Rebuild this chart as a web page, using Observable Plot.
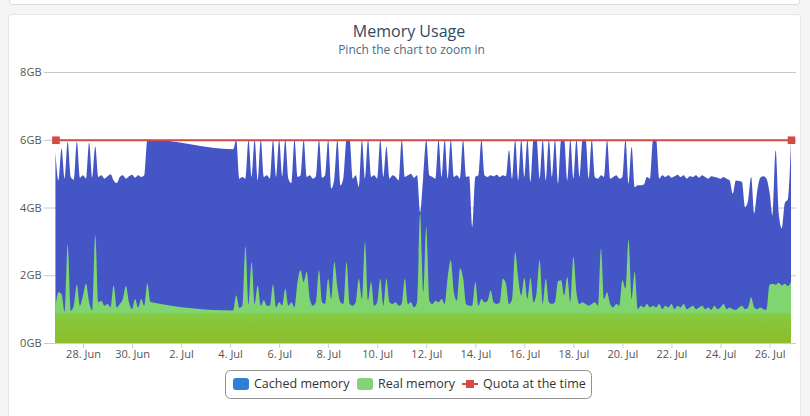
<!DOCTYPE html>
<html>
<head>
<meta charset="utf-8">
<script src="https://cdn.jsdelivr.net/npm/d3@7"></script>
<script src="https://cdn.jsdelivr.net/npm/@observablehq/plot@0.6"></script>
<style>
html,body{margin:0;padding:0}
body{width:810px;height:416px;overflow:hidden;background:#f5f5f5;position:relative;font-family:"Open Sans",sans-serif}
#topbox{position:absolute;left:9px;top:-12px;width:789px;height:15px;background:#fff;border:1px solid #dcdcdc;border-radius:3px}
#panel{position:absolute;left:8px;top:14px;width:791px;height:412px;background:#fff;border:1px solid #e6e6e6;border-radius:3px}
#chart,#overlay{position:absolute;left:0;top:0}
</style>
</head>
<body>
<div id="topbox"></div>
<div id="panel"></div>
<div id="chart"></div>
<svg id="overlay" width="810" height="416" font-family="Open Sans, sans-serif">
  <text x="409" y="36.5" text-anchor="middle" font-size="16" fill="#34495e">Memory Usage</text>
  <text x="411.5" y="54" text-anchor="middle" font-size="12" fill="#4d6a86">Pinch the chart to zoom in</text>
  <rect x="225.5" y="370.5" width="366" height="28" rx="5" fill="#fff" stroke="#909090"/>
  <rect x="233" y="378" width="16" height="12" rx="3" fill="#2f7ed8"/>
  <text x="254" y="388" font-size="12.5" fill="#333">Cached memory</text>
  <rect x="357" y="378" width="16" height="12" rx="3" fill="#86d27a"/>
  <text x="378" y="388" font-size="12.5" fill="#333">Real memory</text>
  <line x1="462" x2="478" y1="384" y2="384" stroke="#d24b47" stroke-width="2"/>
  <rect x="466" y="380" width="8" height="8" fill="#d24b47"/>
  <text x="483" y="388" font-size="12.5" fill="#333">Quota at the time</text>
</svg>
<script>
// ---- data (GB), one value every 3 hours starting 26 Jun 21:00; null = no samples ----
const cachedGB = [
  5.64,4.8,5.74,4.85,5.94,4.9,4.82,5.95,4.88,4.95,
  4.85,5.92,4.88,5.8,4.9,4.95,4.85,4.92,4.98,4.8,
  4.72,4.9,4.95,4.85,4.92,4.97,4.88,4.95,4.9,4.95,
  6.0,6.0,null,null,null,null,null,null,null,null,
  null,null,null,null,null,null,null,null,null,null,
  null,null,null,null,null,null,null,null,5.72,6.0,
  4.85,4.9,4.85,6.0,4.9,6.0,4.8,6.0,4.9,4.95,
  4.85,6.0,4.9,6.0,4.92,6.0,4.85,4.72,6.0,4.9,
  4.95,6.0,4.9,4.95,4.85,4.92,6.0,4.88,4.95,6.0,
  4.56,4.85,6.0,4.65,4.9,6.0,6.0,4.85,4.95,4.6,
  6.0,4.85,6.0,4.9,4.95,4.85,6.0,4.9,5.79,4.85,
  4.95,4.9,4.8,6.0,4.9,4.95,5.0,4.88,4.95,3.85,
  4.9,6.0,4.95,4.9,4.85,6.0,4.9,6.0,4.85,6.0,
  4.9,4.95,4.85,6.0,4.9,4.92,3.42,4.9,4.95,6.0,
  4.95,4.9,4.95,4.92,4.97,4.9,4.95,4.92,5.69,4.85,
  6.0,4.8,6.0,4.9,6.0,4.75,6.0,6.0,4.85,6.0,
  4.8,6.0,4.9,6.0,4.7,6.0,6.0,4.8,6.0,4.85,
  6.0,4.9,6.0,6.0,4.85,6.0,4.9,4.85,4.95,4.9,
  6.0,4.85,4.9,4.95,4.85,4.9,6.0,4.7,5.79,4.6,
  4.66,4.66,4.68,4.9,4.85,6.0,6.0,4.85,4.95,4.9,
  4.95,4.88,4.92,4.97,4.9,4.95,4.85,4.92,4.9,4.95,
  4.88,4.95,4.9,4.85,4.92,4.9,4.88,4.85,4.9,4.85,
  4.8,4.41,4.8,4.78,4.75,4.01,4.2,4.9,3.82,4.5,
  4.88,4.92,4.85,4.45,3.75,5.69,3.82,3.38,4.13,4.25,
  5.95
];
const realGB = [
  1.05,1.5,1.45,0.92,2.9,0.95,1.1,1.72,1.1,1.4,
  1.75,1.2,0.96,3.18,1.2,1.25,1.1,1.15,1.05,1.7,
  1.05,1.15,1.3,1.68,1.2,1.0,1.3,1.05,1.3,1.1,
  1.76,1.21,null,null,null,null,null,null,null,null,
  null,null,null,null,null,null,null,null,null,null,
  null,null,null,null,null,null,null,null,0.96,1.41,
  1.04,1.1,2.85,1.13,2.39,1.15,1.7,1.1,1.26,1.1,
  1.1,1.73,1.05,1.2,1.1,1.6,1.1,1.2,1.05,1.8,
  2.15,1.8,2.1,1.3,1.1,1.2,2.15,1.2,1.15,1.9,
  1.3,2.39,1.65,1.2,1.15,2.39,1.15,1.1,1.2,1.9,
  1.3,2.98,1.25,1.8,1.1,1.2,1.9,1.1,1.9,1.2,
  1.15,1.2,1.1,1.15,1.9,1.15,1.2,1.05,1.2,3.82,
  1.5,3.42,1.25,1.15,1.25,1.2,1.3,1.15,1.95,2.44,
  1.5,1.25,2.2,1.93,1.15,1.1,1.1,1.8,1.1,1.3,
  1.2,1.25,1.55,1.2,1.15,1.2,1.9,1.75,1.15,1.3,
  2.69,1.9,1.4,1.92,1.3,1.92,1.2,1.5,2.44,1.15,
  1.9,1.2,1.15,1.2,1.83,1.85,1.4,1.95,1.2,2.54,
  1.5,1.15,1.2,1.15,1.1,1.15,1.2,1.1,2.79,1.3,
  1.5,1.15,1.05,1.15,1.1,1.85,1.6,3.05,1.3,2.1,
  1.0,1.1,1.05,1.15,1.05,1.1,1.05,1.15,1.0,1.1,
  1.05,1.15,1.0,1.1,1.05,1.15,1.0,1.05,1.1,1.0,
  1.05,1.1,1.0,1.05,0.98,1.1,1.0,1.05,1.15,1.0,
  1.05,1.0,0.98,1.05,1.1,1.0,1.05,1.35,1.05,1.0,
  1.05,1.0,0.98,1.72,1.75,1.72,1.78,1.7,1.75,1.68,
  1.8
];
const quotaGB = [6, 6];            // first and last sample
const yTicks = [0, 2, 4, 6, 8];
const monthNames = ["Jan","Feb","Mar","Apr","May","Jun","Jul","Aug","Sep","Oct","Nov","Dec"];
const tickDays = [[5,28],[5,30],[6,2],[6,4],[6,6],[6,8],[6,10],[6,12],[6,14],[6,16],[6,18],[6,20],[6,22],[6,24],[6,26]];

const seriesStart = Date.UTC(2014, 5, 26, 21, 0);
const stepMs = 3 * 3600e3;
const rows = arr => arr.map((v, i) => ({t: new Date(seriesStart + i * stepMs), v})).filter(d => d.v !== null);
const cachedRows = rows(cachedGB);
const realRows = rows(realGB);
const quotaRows = [
  {t: new Date(seriesStart), v: quotaGB[0]},
  {t: new Date(seriesStart + (cachedGB.length - 1) * stepMs), v: quotaGB[1]}
];
const tickDates = tickDays.map(([m, d]) => new Date(Date.UTC(2014, m, d)));

const red = "#d24b47";
const plot = Plot.plot({
  width: 810, height: 416,
  marginLeft: 49, marginRight: 14, marginTop: 72, marginBottom: 73,
  style: {background: "transparent", fontFamily: "Open Sans, sans-serif", fontSize: "11px", overflow: "visible"},
  x: {type: "utc", domain: [new Date(Date.UTC(2014, 5, 26, 14, 43)), new Date(Date.UTC(2014, 6, 27, 1, 54))], label: null},
  y: {domain: [0, 8], label: null},
  marks: [
    Plot.gridY(yTicks.slice(1), {stroke: "#c8c8c8", strokeOpacity: 1}),
    Plot.areaY(cachedRows, {x: "t", y: "v", fill: "#4455c6", curve: "monotone-x"}),
    Plot.areaY(realRows, {x: "t", y: "v", fill: "url(#realGrad)", curve: "monotone-x"}),
    Plot.ruleY([0], {stroke: "#c0d0e0"}),
    Plot.line(quotaRows, {x: "t", y: "v", stroke: red, strokeWidth: 2}),
    Plot.dot(quotaRows, {x: "t", y: "v", symbol: "square", fill: red, r: 4.3}),
    Plot.axisX({ticks: tickDates, tickFormat: d => `${d.getUTCDate()}. ${monthNames[d.getUTCMonth()]}`,
      tickSize: 5, tickPadding: 2, stroke: "#c0d0e0", fill: "#555", label: null}),
    Plot.axisY({ticks: yTicks, tickFormat: d => d + "GB", tickSize: 5, tickPadding: 3,
      stroke: "#c8c8c8", fill: "#555", label: null})
  ]
});

const ys = plot.scale("y");
const defs = d3.select(plot).insert("defs", ":first-child");
const g = defs.append("linearGradient").attr("id", "realGrad")
  .attr("gradientUnits", "userSpaceOnUse")
  .attr("x1", 0).attr("x2", 0).attr("y1", ys.apply(4)).attr("y2", ys.apply(0));
[[0, "#80d873"], [0.77, "#7fd670"], [0.795, "#86c93f"], [1, "#8dbd2a"]].forEach(([o, c]) =>
  g.append("stop").attr("offset", o).attr("stop-color", c));

document.getElementById("chart").appendChild(plot);
</script>
</body>
</html>
